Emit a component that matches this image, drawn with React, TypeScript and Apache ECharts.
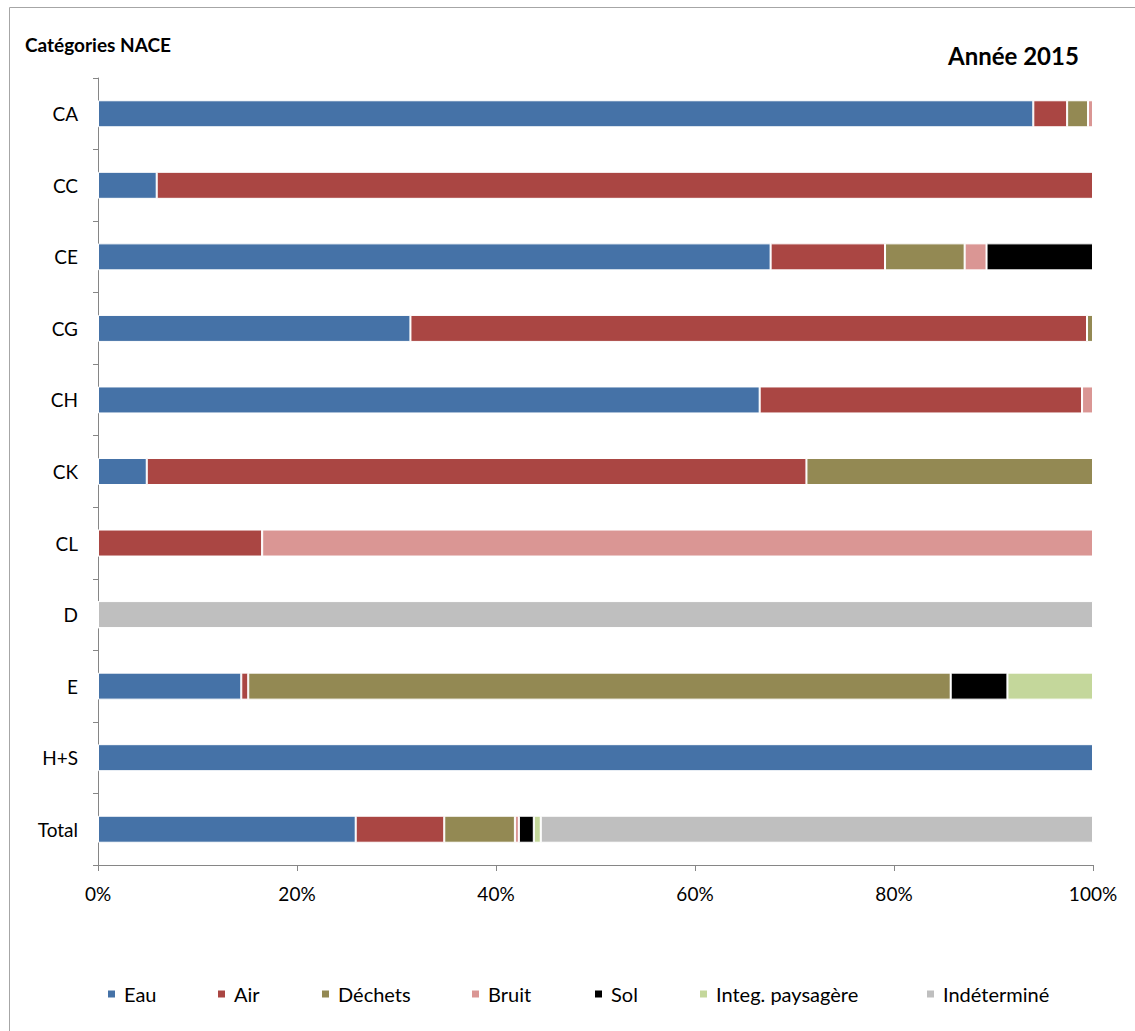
import React, { useEffect, useRef } from "react";
import * as echarts from "echarts";

// NACE categories, top to bottom
const categories = ["CA", "CC", "CE", "CG", "CH", "CK", "CL", "D", "E", "H+S", "Total"];

// Share of each environmental domain per category (%)
const eau = [94.0, 5.9, 67.6, 31.4, 66.5, 4.9, 0, 0, 14.4, 100, 25.9];
const air = [3.4, 94.1, 11.5, 68.0, 32.4, 66.3, 16.5, 0, 0.7, 0, 8.9];
const dechets = [2.1, 0, 8.0, 0.6, 0, 28.8, 0, 0, 70.6, 0, 7.1];
const bruit = [0.5, 0, 2.2, 0, 1.1, 0, 83.5, 0, 0, 0, 0.4];
const sol = [0, 0, 10.7, 0, 0, 0, 0, 0, 5.7, 0, 1.5];
const integ = [0, 0, 0, 0, 0, 0, 0, 0, 8.6, 0, 0.7];
const indetermine = [0, 0, 0, 0, 0, 0, 0, 100, 0, 0, 55.5];

const seriesNames = ["Eau", "Air", "Déchets", "Bruit", "Sol", "Integ. paysagère", "Indéterminé"];
const seriesValues = [eau, air, dechets, bruit, sol, integ, indetermine];
const seriesColors = ["#4572A7", "#AA4643", "#938953", "#DA9694", "#000000", "#C4D79B", "#BFBFBF"];
const legendLeft = [106, 216, 320, 470, 593, 698, 925];

const FONT = "Lato, 'Open Sans', sans-serif";

export default function App() {
  const ref = useRef<HTMLDivElement>(null);

  useEffect(() => {
    if (!ref.current) return;
    const chart = echarts.init(ref.current, undefined, { renderer: "svg" });

    chart.setOption({
      animation: false,
      backgroundColor: "#ffffff",
      textStyle: { fontFamily: FONT },
      grid: { left: 98, right: 42, top: 78, bottom: 166, containLabel: false },
      xAxis: {
        type: "value",
        min: 0,
        max: 100,
        interval: 20,
        axisLine: { show: true, lineStyle: { color: "#868686", width: 1 } },
        axisTick: { show: true, length: 6, lineStyle: { color: "#868686" } },
        splitLine: { show: false },
        axisLabel: {
          formatter: "{value}%",
          color: "#000",
          fontSize: 19,
          fontFamily: FONT,
          margin: 19,
        },
      },
      yAxis: {
        type: "category",
        data: categories,
        inverse: true,
        axisLine: { show: true, lineStyle: { color: "#868686", width: 1 } },
        axisTick: { show: true, length: 5, lineStyle: { color: "#868686" } },
        axisLabel: { color: "#000", fontSize: 19, fontFamily: FONT, margin: 20 },
      },
      legend: seriesNames.map((name, i) => ({
        data: [name],
        left: legendLeft[i],
        top: 984,
        padding: 0,
        orient: "horizontal",
        itemWidth: 9,
        itemHeight: 9,
        icon: "rect",
        selectedMode: false,
        textStyle: { color: "#000", fontSize: 20, fontFamily: FONT, padding: [0, 0, 0, 3] },
      })),
      graphic: [
        {
          type: "line",
          shape: { x1: 9.5, y1: 7.5, x2: 1135, y2: 7.5 },
          style: { stroke: "#a6a6a6", lineWidth: 1 },
        },
        {
          type: "line",
          shape: { x1: 9.5, y1: 7.5, x2: 9.5, y2: 1031 },
          style: { stroke: "#a6a6a6", lineWidth: 1 },
        },
        {
          type: "text",
          left: 25,
          top: 35,
          style: {
            text: "Catégories NACE",
            font: `bold 19px ${FONT}`,
            fill: "#000",
          },
        },
        {
          type: "text",
          left: 948,
          top: 43,
          style: {
            text: "Année 2015",
            font: `bold 24px ${FONT}`,
            fill: "#000",
          },
        },
      ],
      series: seriesNames.map((name, i) => ({
        name,
        type: "bar",
        stack: "total",
        data: seriesValues[i],
        barWidth: 27,
        itemStyle: { color: seriesColors[i], borderColor: "#ffffff", borderWidth: 1 },
        emphasis: { disabled: true },
      })),
    });

    return () => chart.dispose();
  }, []);

  return (
    <div
      ref={ref}
      style={{ position: "absolute", left: 0, top: 0, width: 1135, height: 1031 }}
    />
  );
}
